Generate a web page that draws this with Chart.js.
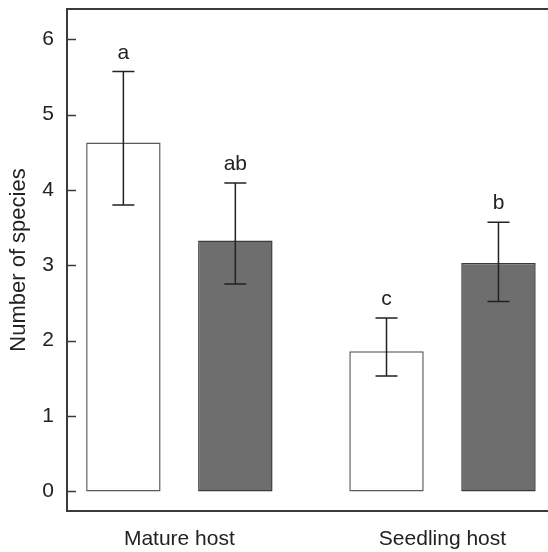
<!DOCTYPE html>
<html>
<head>
<meta charset="utf-8">
<script src="https://cdn.jsdelivr.net/npm/chart.js@4.4.1/dist/chart.umd.min.js"></script>
<style>
  html, body { margin: 0; padding: 0; background: #fff; }
  #wrap { width: 548px; height: 552px; }
</style>
</head>
<body>
<div id="wrap"><canvas id="myChart" width="548" height="552"></canvas></div>
<script>
// data
const categories = ['Mature host', 'Seedling host'];
const yTicks = [0, 1, 2, 3, 4, 5, 6];

const openMeans = [4.63, 1.86];
const openLow = [3.80, 1.53];
const openHigh = [5.57, 2.30];
const openLetters = ['a', 'c'];

const filledMeans = [3.33, 3.03];
const filledLow = [2.75, 2.52];
const filledHigh = [4.09, 3.57];
const filledLetters = ['ab', 'b'];

const FONT = '"Liberation Sans", Arial, Helvetica, sans-serif';
const INK = '#222222';
const AXIS = '#3a3a3a';

function toPoints(vals) {
    return vals.map((v, i) => ({ x: i, y: v }));
}

const extras = [
    { low: openLow, high: openHigh, letters: openLetters },
    { low: filledLow, high: filledHigh, letters: filledLetters }
];

// error bars, letters, inward ticks and top frame line
const decorPlugin = {
    id: 'decor',
    afterDatasetsDraw(chart) {
        const ctx = chart.ctx;
        const y = chart.scales.y;
        const area = chart.chartArea;
        ctx.save();
        ctx.strokeStyle = INK;
        ctx.lineWidth = 1.5;
        extras.forEach((ex, d) => {
            const meta = chart.getDatasetMeta(d);
            meta.data.forEach((bar, i) => {
                const cx = bar.x;
                const yl = y.getPixelForValue(ex.low[i]);
                const yh = y.getPixelForValue(ex.high[i]);
                ctx.beginPath();
                ctx.moveTo(cx, yl); ctx.lineTo(cx, yh);
                ctx.moveTo(cx - 11, yh); ctx.lineTo(cx + 11, yh);
                ctx.moveTo(cx - 11, yl); ctx.lineTo(cx + 11, yl);
                ctx.stroke();
                ctx.fillStyle = INK;
                ctx.font = '21px ' + FONT;
                ctx.textAlign = 'center';
                ctx.textBaseline = 'alphabetic';
                ctx.fillText(ex.letters[i], cx, yh - 13);
            });
        });
        // inward ticks on the y axis
        ctx.strokeStyle = AXIS;
        ctx.lineWidth = 1.5;
        yTicks.forEach(t => {
            const py = Math.round(y.getPixelForValue(t)) + 0.5;
            ctx.beginPath();
            ctx.moveTo(area.left, py);
            ctx.lineTo(area.left + 9, py);
            ctx.stroke();
        });
        // top frame line
        ctx.lineWidth = 2;
        ctx.beginPath();
        ctx.moveTo(area.left - 1, area.top);
        ctx.lineTo(chart.width, area.top);
        ctx.stroke();
        ctx.restore();
    }
};

const ctx = document.getElementById('myChart').getContext('2d');
const myChart = new Chart(ctx, {
    type: 'bar',
    data: {
        datasets: [{
            label: 'open',
            data: toPoints(openMeans),
            backgroundColor: '#ffffff',
            borderColor: '#5a5a5a',
            borderWidth: 1.5,
            borderSkipped: false
        },
        {
            label: 'filled',
            data: toPoints(filledMeans),
            backgroundColor: '#6e6e6e',
            borderColor: '#3a3a3a',
            borderWidth: 1.5,
            borderSkipped: false
        }]
    },
    options: {
        responsive: false,
        animation: false,
        devicePixelRatio: 1,
        categoryPercentage: 0.851,
        barPercentage: 0.665,
        layout: { padding: { top: 9, right: 0, left: 0, bottom: 0 } },
        plugins: {
            legend: { display: false },
            tooltip: { enabled: false }
        },
        scales: {
            x: {
                type: 'linear',
                offset: false,
                min: -0.427,
                max: 1.401,
                afterBuildTicks: (scale) => {
                    scale.ticks = categories.map((c, i) => ({ value: i }));
                },
                afterFit: (scale) => {
                    scale.height = 41;
                    scale.paddingLeft = 0;
                    scale.paddingRight = 0;
                },
                grid: { display: false, drawTicks: false },
                border: { display: true, color: AXIS, width: 2 },
                ticks: {
                    padding: 16,
                    color: INK,
                    font: { family: FONT, size: 21 },
                    maxRotation: 0,
                    autoSkip: false,
                    callback: (v) => categories[v]
                }
            },
            y: {
                min: -0.26,
                max: 6.4,
                afterBuildTicks: (scale) => {
                    scale.ticks = yTicks.map(v => ({ value: v }));
                },
                afterFit: (scale) => {
                    scale.width = 67;
                    scale.paddingTop = 0;
                    scale.paddingBottom = 0;
                },
                grid: { display: false, drawTicks: false },
                border: { display: true, color: AXIS, width: 2 },
                ticks: {
                    padding: 13,
                    color: INK,
                    font: { family: FONT, size: 21 }
                },
                title: {
                    display: true,
                    text: 'Number of species',
                    color: INK,
                    font: { family: FONT, size: 22 },
                    padding: { top: 6, bottom: 0 }
                }
            }
        }
    },
    plugins: [decorPlugin]
});
</script>
</body>
</html>
